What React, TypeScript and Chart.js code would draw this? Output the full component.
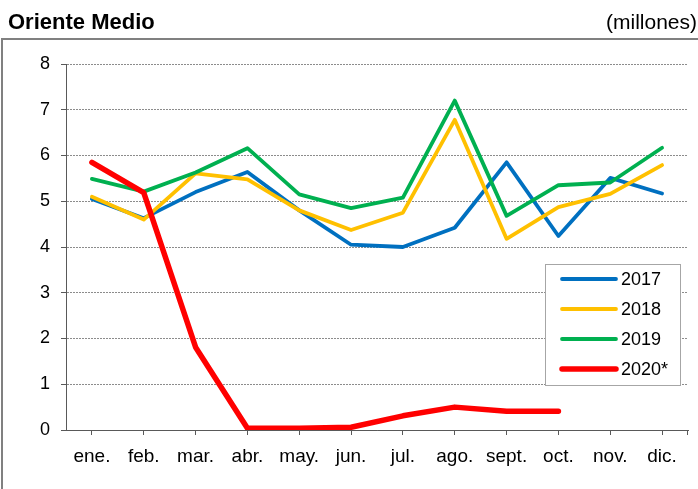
import React, { useEffect, useRef } from "react";
import { Chart, registerables } from "chart.js";

Chart.register(...registerables);

const months = ["ene.", "feb.", "mar.", "abr.", "may.", "jun.", "jul.", "ago.", "sept.", "oct.", "nov.", "dic."];
const series2017 = [5.05, 4.63, 5.2, 5.64, 4.8, 4.05, 4.0, 4.42, 5.85, 4.24, 5.51, 5.17];
const series2018 = [5.1, 4.6, 5.61, 5.48, 4.8, 4.37, 4.75, 6.78, 4.18, 4.87, 5.16, 5.79];
const series2019 = [5.49, 5.21, 5.63, 6.16, 5.15, 4.85, 5.08, 7.2, 4.68, 5.35, 5.41, 6.17];
const series2020 = [5.85, 5.19, 1.81, 0.04, 0.04, 0.06, 0.31, 0.5, 0.41, 0.41, null, null];
const seriesLabels = ["2017", "2018", "2019", "2020*"];
const seriesColors = ["#0070C0", "#FFC000", "#00B050", "#FF0000"];
const yTicks = [0, 1, 2, 3, 4, 5, 6, 7, 8];
const titleText = "Oriente Medio";
const unitText = "(millones)";

const FONT = '"Liberation Sans", Arial, sans-serif';

const decorPlugin = {
  id: "decor",
  beforeDraw(chart: any) {
    const ctx = chart.ctx;
    ctx.save();
    ctx.fillStyle = "#ffffff";
    ctx.fillRect(0, 0, chart.width, chart.height);
    // titles
    ctx.fillStyle = "#000000";
    ctx.textBaseline = "alphabetic";
    ctx.font = `bold 22px ${FONT}`;
    ctx.textAlign = "left";
    ctx.fillText(titleText, 8, 29);
    ctx.font = `21px ${FONT}`;
    ctx.textAlign = "right";
    ctx.fillText(unitText, 697, 29);
    // frame
    ctx.strokeStyle = "#808080";
    ctx.lineWidth = 2;
    ctx.beginPath();
    ctx.moveTo(2, chart.height + 5);
    ctx.lineTo(2, 39);
    ctx.lineTo(chart.width + 5, 39);
    ctx.stroke();
    ctx.restore();
  },
  afterDraw(chart: any) {
    const ctx = chart.ctx;
    const area = chart.chartArea;
    ctx.save();
    // end tick on x axis
    ctx.strokeStyle = "#595959";
    ctx.lineWidth = 1;
    ctx.beginPath();
    ctx.moveTo(Math.round(area.right) - 0.5, area.bottom);
    ctx.lineTo(Math.round(area.right) - 0.5, area.bottom + 5);
    ctx.stroke();
    // legend
    const bx = 545, by = 264, bw = 135, bh = 121;
    ctx.fillStyle = "#ffffff";
    ctx.fillRect(bx, by, bw, bh);
    ctx.strokeStyle = "#a6a6a6";
    ctx.lineWidth = 1;
    ctx.strokeRect(bx + 0.5, by + 0.5, bw, bh);
    ctx.font = `18px ${FONT}`;
    ctx.textBaseline = "middle";
    ctx.textAlign = "left";
    chart.data.datasets.forEach((ds: any, i: number) => {
      const y = by + 15 + i * 30;
      ctx.strokeStyle = ds.borderColor;
      ctx.lineWidth = ds.borderWidth;
      ctx.lineCap = "round";
      ctx.beginPath();
      ctx.moveTo(bx + 17, y);
      ctx.lineTo(bx + 71, y);
      ctx.stroke();
      ctx.fillStyle = "#000000";
      ctx.fillText(ds.label, bx + 76, y + 1);
    });
    ctx.restore();
  },
};

export default function App() {
  const ref = useRef<HTMLCanvasElement>(null);
  useEffect(() => {
    if (!ref.current) return;
    const all = [series2017, series2018, series2019, series2020];
    const chart = new Chart(ref.current, {
      type: "line",
      data: {
        labels: months,
        datasets: all.map((d, i) => ({
          label: seriesLabels[i],
          data: d,
          borderColor: seriesColors[i],
          backgroundColor: seriesColors[i],
          borderWidth: i === 3 ? 5.5 : 3.8,
          pointRadius: 0,
          tension: 0,
          fill: false,
          borderJoinStyle: "round" as const,
          borderCapStyle: "round" as const,
          order: 4 - i,
        })),
      },
      options: {
        animation: false,
        responsive: false,
        devicePixelRatio: 1,
        events: [],
        layout: { padding: { left: 0, right: 10, top: 64, bottom: 0 } },
        plugins: {
          legend: { display: false },
          tooltip: { enabled: false },
          title: { display: false },
        },
        scales: {
          x: {
            type: "category",
            offset: true,
            grid: {
              display: true,
              drawOnChartArea: false,
              drawTicks: true,
              tickLength: 5,
              tickColor: "#595959",
              offset: false,
            },
            border: { display: true, color: "#595959", width: 1 },
            ticks: {
              color: "#000000",
              font: { family: FONT, size: 19 },
              padding: 10,
              maxRotation: 0,
              autoSkip: false,
            },
            afterFit: (s: any) => {
              s.height = 59;
            },
          },
          y: {
            min: 0,
            max: 8,
            afterBuildTicks: (s: any) => {
              s.ticks = yTicks.map((v) => ({ value: v }));
            },
            grid: {
              color: "#8c8c8c",
              lineWidth: 1,
              tickLength: 5,
              tickColor: "#595959",
              tickBorderDash: [],
            },
            border: { display: true, color: "#595959", width: 1, dash: [2, 1] },
            ticks: {
              color: "#000000",
              font: { family: FONT, size: 18 },
              padding: 11,
            },
            afterFit: (s: any) => {
              s.width = 66;
            },
          },
        },
      },
      plugins: [decorPlugin],
    });
    return () => chart.destroy();
  }, []);
  return (
    <div style={{ position: "fixed", left: 0, top: 0, width: 698, height: 489, background: "#fff" }}>
      <canvas ref={ref} width={698} height={489} style={{ display: "block", width: 698, height: 489 }} />
    </div>
  );
}
